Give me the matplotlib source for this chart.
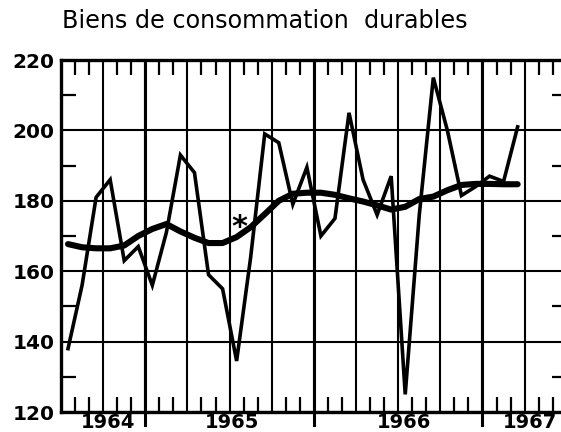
import numpy as np
import matplotlib
matplotlib.use("Agg")
import matplotlib.pyplot as plt
from matplotlib.transforms import blended_transform_factory

plt.rcParams["font.family"] = ["DejaVu Sans"]

# ── Data (monthly, July 1964 → March 1967) ─────────────────────────────────
TITLE      = "Biens de consommation  durables"
month_idx  = np.arange(33) + 0.5          # month centres, 0 = July 1964
raw_index  = [138, 156, 181, 186, 163, 167, 156, 171, 193, 188, 159, 155,
              134.5, 164, 199, 196.5, 179, 189.5, 170, 175, 205, 186, 176, 187,
              125, 176, 215, 200, 181.5, 184, 187, 185.5, 201]
trend      = [167.7, 166.8, 166.5, 166.5, 167.3, 170, 172, 173.4, 171.3, 169.5,
              168, 168, 169.7, 172.5, 176.2, 180, 182, 182.3, 182.3, 181.7,
              180.7, 179.8, 178.7, 177.5, 178.3, 180.5, 181.2, 183, 184.5,
              184.8, 184.8, 184.7, 184.7]
y_ticks    = [120, 140, 160, 180, 200, 220]
year_lines = [6, 18, 30]                  # January of 1965, 1966, 1967
years      = ["1964", "1965", "1966", "1967"]
year_pos   = [3.35, 12.2, 24.4, 33.35]
star_x, star_y = 12.7, 172.3

# ── Figure ─────────────────────────────────────────────────────────────────
W, H = 561, 432
fig = plt.figure(figsize=(W / 100, H / 100), dpi=100)
ax = fig.add_axes([61 / W, 20 / H, (566.8 - 61) / W, 352 / H])

ax.set_xlim(0, 36)
ax.set_ylim(120, 220)

# grid: quarters and every 20 units
ax.set_xticks(np.arange(0, 37, 3))
ax.set_xticks(np.arange(1, 36), minor=True)
ax.set_yticks(y_ticks)
ax.set_yticks(np.arange(130, 220, 20), minor=True)
ax.set_xticklabels([])
ax.set_yticklabels([str(v) for v in y_ticks], fontsize=14.5, fontweight="bold")
ax.grid(True, which="major", color="black", linewidth=1.5)

ax.tick_params(axis="both", which="major", length=0, pad=4.5)
ax.tick_params(axis="x", which="minor", direction="in", top=True, bottom=True,
               length=10.8, width=1.6, color="black")
ax.tick_params(axis="y", which="minor", direction="in", left=True, right=True,
               length=10.8, width=1.6, color="black")

for s in ax.spines.values():
    s.set_linewidth(2.4)
    s.set_color("black")

# year boundaries, heavier and running below the axis
for m in year_lines:
    ax.axvline(m, ymin=-0.037, ymax=1, color="black", linewidth=2.2,
               clip_on=False)

# series
ax.plot(month_idx, raw_index, color="black", linewidth=2.6,
        solid_joinstyle="miter", zorder=3)
ax.plot(month_idx, trend, color="black", linewidth=4.4,
        solid_joinstyle="round", solid_capstyle="round", zorder=4)

ax.text(star_x, star_y, "*", fontsize=22, fontweight="bold",
        ha="center", va="center", zorder=5)

# year labels
tr = blended_transform_factory(ax.transData, fig.transFigure)
for lab, xp in zip(years, year_pos):
    ax.text(xp, 4.5 / H, lab, transform=tr, ha="center", va="baseline",
            fontsize=14, fontweight="bold", clip_on=False)

fig.text(62 / W, 1 - 28 / H, TITLE, fontsize=17.2, ha="left", va="baseline")

fig.savefig("out.png", dpi=100, facecolor="white")
